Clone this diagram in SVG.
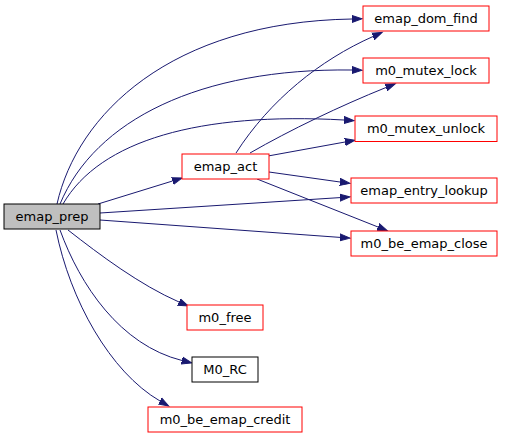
<svg xmlns="http://www.w3.org/2000/svg" width="507" height="439" viewBox="0 0 507 439">
<style>
.n rect{fill:#ffffff;stroke:#ff0000;stroke-width:1}
.n text{font-family:"DejaVu Sans",sans-serif;font-size:13px;text-anchor:middle;fill:#000000}
#n_prep rect{fill:#bfbfbf;stroke:#000000}
#n_rc rect{stroke:#000000}
.e path{fill:none;stroke:#191970;stroke-width:1;marker-end:url(#ah)}
</style>
<defs>
<marker id="ah" markerUnits="userSpaceOnUse" markerWidth="12" markerHeight="10" refX="0" refY="4" orient="auto" viewBox="0 0 12 8">
<polygon points="0,0.5 10,4 0,7.5" fill="#191970" stroke="#191970" stroke-width="1"/>
</marker>
</defs>
<rect width="507" height="439" fill="#ffffff"/>
<g id="edges" class="e">
<path d="M57,204 C77,115 170,22 352,19"/>
<path d="M60,204 C95,120 200,68 352,70"/>
<path d="M63,204 C100,140 200,112 344,120"/>
<path d="M98,204 L172.5,181"/>
<path d="M100,213 L340,197.6"/>
<path d="M100,220 L340,237.4"/>
<path d="M236,153 C270,100 320,60 373,36.5"/>
<path d="M250,153 C290,130 340,106 386,87.5"/>
<path d="M268,156 L345,142"/>
<path d="M269,172 L340,182"/>
<path d="M257,179 L378,227"/>
<path d="M68,230 C100,255 140,285 179,302"/>
<path d="M60,230 C80,285 120,345 182,360.5"/>
<path d="M56,230 C70,300 110,372 160,401"/>
</g>
<g id="n_prep" class="n"><rect x="4" y="204" width="96" height="25"/><text x="52" y="221">emap_prep</text></g>
<g id="n_act" class="n"><rect x="182" y="154" width="87" height="25"/><text x="225.5" y="171">emap_act</text></g>
<g id="n_domfind" class="n"><rect x="363" y="6" width="126" height="25"/><text x="426" y="23">emap_dom_find</text></g>
<g id="n_lock" class="n"><rect x="363" y="58" width="126" height="25"/><text x="426" y="75">m0_mutex_lock</text></g>
<g id="n_unlock" class="n"><rect x="355" y="116" width="142" height="25.5"/><text x="426" y="133">m0_mutex_unlock</text></g>
<g id="n_lookup" class="n"><rect x="351" y="178" width="146" height="25"/><text x="424" y="195">emap_entry_lookup</text></g>
<g id="n_close" class="n"><rect x="351" y="231" width="146" height="25"/><text x="424" y="248">m0_be_emap_close</text></g>
<g id="n_free" class="n"><rect x="187" y="305" width="76" height="25"/><text x="225" y="322">m0_free</text></g>
<g id="n_rc" class="n"><rect x="192" y="357" width="66" height="25"/><text x="225" y="374">M0_RC</text></g>
<g id="n_credit" class="n"><rect x="148" y="407" width="154" height="25"/><text x="225" y="424">m0_be_emap_credit</text></g>
</svg>
